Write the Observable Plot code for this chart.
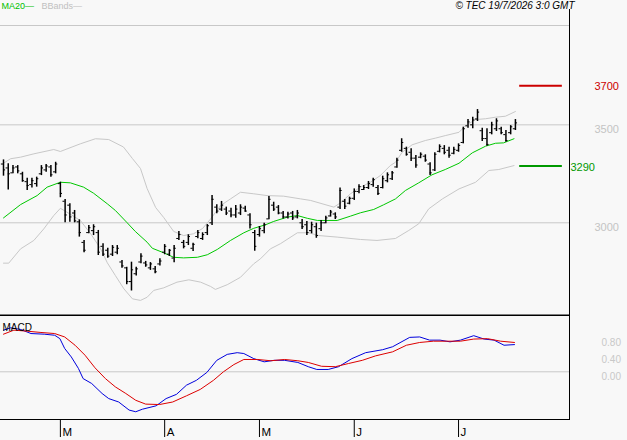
<!DOCTYPE html>
<html><head><meta charset="utf-8">
<script src="https://cdn.jsdelivr.net/npm/d3@7"></script>
<script src="https://cdn.jsdelivr.net/npm/@observablehq/plot@0.6"></script>
<style>
body{margin:0;background:#f8f8f8;}
#wrap{position:relative;width:627px;height:440px;overflow:hidden;background:#f8f8f8;font-family:"Liberation Sans",Arial,sans-serif;}
#top,#bot{position:absolute;left:0;}
#top{top:0}
#bot{top:316px}
#border{position:absolute;left:0;top:9px;width:570px;height:411px;box-sizing:border-box;border-right:1px solid #000;border-bottom:1px solid #000;pointer-events:none}
</style></head><body>
<div id="wrap"><div id="top"></div><div id="bot"></div><div id="border"></div></div>
<script>
// ---- daily OHLC bars (trading day index 0 = 12 Feb 2026 ... 108 = 17 Jul 2026)
const high = [3321,3301,3292,3292,3258,3228,3228,3233,3292,3297,
  3292,3309,3207,3119,3097,3063,3015,2910,2986,2990,
  2961,2893,2870,2884,2884,2808,2773,2799,2773,2842,
  2803,2797,2777,2816,2889,2864,2884,2956,2910,2939,
  2896,2961,2949,2991,3139,3092,3109,3080,3074,3088,
  3092,3085,3046,2961,2981,2998,3134,3105,3088,3058,
  3054,3058,3063,3017,3007,3003,2998,3012,3034,3063,
  3051,3177,3119,3131,3173,3194,3190,3211,3228,3190,
  3238,3255,3262,3330,3429,3386,3378,3343,3357,3347,
  3306,3357,3398,3394,3386,3386,3403,3488,3527,3539,
  3578,3483,3480,3513,3531,3488,3471,3496,3527];
const low = [3238,3168,3250,3250,3207,3165,3177,3182,3241,3258,
  3233,3250,3128,3000,3003,3000,2927,2847,2944,2935,
  2833,2828,2819,2828,2837,2768,2684,2652,2728,2791,
  2773,2757,2740,2779,2837,2828,2796,2910,2867,2884,
  2854,2918,2910,2935,2986,3046,3058,3037,3026,3023,
  3037,3054,2969,2855,2927,2944,3015,3058,3041,3020,
  3020,3012,3020,2966,2935,2944,2921,2956,2995,3029,
  3017,3068,3068,3092,3114,3148,3165,3170,3182,3139,
  3173,3204,3216,3279,3360,3340,3313,3279,3327,3309,
  3241,3262,3357,3347,3330,3347,3360,3403,3483,3480,
  3517,3415,3391,3449,3466,3449,3411,3449,3471];
const open = [3300,3280,3255,3285,3250,3210,3195,3200,3250,3270,
  3285,3260,3200,3110,3090,3050,3005,2900,2950,2960,
  2950,2880,2860,2840,2850,2800,2770,2700,2740,2800,
  2795,2770,2765,2790,2850,2840,2820,2920,2900,2900,
  2870,2930,2920,2950,3000,3080,3070,3070,3060,3040,
  3050,3075,3040,2950,2940,2960,3020,3090,3080,3050,
  3030,3050,3030,3000,2990,2960,2980,2970,3000,3035,
  3045,3080,3110,3100,3125,3160,3170,3180,3195,3180,
  3180,3215,3225,3285,3370,3380,3360,3330,3335,3340,
  3300,3270,3365,3380,3370,3355,3370,3410,3495,3500,
  3530,3470,3430,3460,3480,3480,3450,3460,3480];
const close = [3270,3250,3280,3265,3215,3190,3215,3225,3280,3290,
  3245,3300,3150,3040,3030,3010,2950,2860,2975,2980,
  2850,2840,2830,2875,2870,2780,2700,2760,2765,2830,
  2785,2790,2750,2805,2880,2860,2870,2940,2880,2930,
  2890,2950,2940,2985,3120,3060,3090,3050,3040,3070,
  3080,3060,2990,2880,2970,2990,3120,3070,3050,3030,
  3045,3025,3050,2980,2950,2990,2935,3000,3025,3055,
  3030,3165,3085,3125,3160,3185,3180,3200,3220,3150,
  3225,3245,3255,3320,3410,3350,3330,3295,3350,3320,
  3255,3350,3390,3360,3345,3375,3395,3480,3515,3525,
  3565,3430,3400,3500,3520,3460,3420,3490,3510];

// ---- MA20 and Bollinger bands (x = trading day index)
const maIdx = [0,3.6,7.1,9.2,12.0,14.1,16.9,19.0,21.9,23.6,26.1,27.8,30.3,31.4,33.8,35.9,38.0,40.9,43.0,45.1,47.9,50.7,52.8,55.3,57.0,59.9,62.0,64.1,66.2,70.4,73.2,75.3,78.1,80.2,82.7,84.8,87.6,90.4,93.2,96.1,98.9,101.7,103.8,105.5,107.7];
const maVal = [3025,3093,3139,3182,3207,3204,3182,3151,3097,3063,3000,2956,2901,2870,2847,2824,2821,2824,2837,2864,2910,2949,2972,2990,3007,3029,3037,3023,3012,3012,3034,3051,3068,3092,3122,3165,3204,3245,3272,3304,3357,3391,3406,3408,3429];
const bbUpIdx = [0,1.5,3.6,6.4,10.6,12.0,16.2,19.4,22.2,25.3,27.2,28.9,30.3,32.1,33.8,35.9,38.0,40.1,42.0,43.7,45.8,47.9,50.0,52.8,55.6,59.1,62.7,64.8,69.7,71.1,73.2,75.3,77.4,79.5,81.6,82.7,84.1,86.2,89.0,91.1,93.2,96.1,97.5,99.6,101.7,103.8,105.9,108.0];
const bbUpVal = [3304,3327,3335,3352,3374,3364,3403,3429,3425,3387,3328,3277,3175,3078,3027,2956,2935,2944,2971,3020,3088,3122,3156,3148,3139,3136,3122,3114,3080,3102,3148,3182,3207,3241,3292,3309,3360,3398,3420,3432,3445,3462,3496,3527,3531,3539,3544,3568];
const bbLoIdx = [0,1.1,3.6,6.4,8.5,10.6,12.0,13.4,16.2,18.4,20.5,21.9,23.6,25.4,27.2,28.9,30.3,31.7,33.8,36.6,39.1,41.6,43.7,44.7,47.2,50.0,52.8,54.2,56.3,58.4,62.0,64.4,66.5,70.4,75.3,78.8,82.7,85.5,87.6,89.7,92.6,96.1,99.6,102.4,104.5,107.7];
const bbLoVal = [2794,2794,2867,2910,2969,3037,3074,3054,3012,2944,2867,2796,2731,2663,2612,2604,2620,2655,2668,2697,2709,2697,2675,2660,2684,2722,2791,2816,2867,2893,2949,2949,2935,2927,2915,2910,2920,2961,2995,3071,3122,3173,3207,3267,3272,3292];

// ---- MACD and signal
const macdIdx = [0,1.5,3.65,5.8,8.6,10.8,11.9,12.9,14.3,15.8,16.8,18.6,20.8,22.2,24.3,26.5,27.9,29.3,32.2,34.3,36.5,38.6,40.7,42.9,45.0,47.2,49.3,50.7,52.8,55.0,57.1,59.3,62.1,64.3,66.1,68.5,70.7,73.5,76.4,80.0,82.1,85.7,87.8,89.9,92.1,94.2,96.4,99.2,101.4,103.5,105.6,107.8];
const macdVal = [0.98,1.035,0.995,0.90,0.885,0.86,0.78,0.55,0.35,0.08,-0.16,-0.275,-0.51,-0.63,-0.71,-0.90,-0.94,-0.88,-0.80,-0.63,-0.53,-0.315,-0.20,-0.015,0.27,0.41,0.45,0.43,0.31,0.235,0.27,0.27,0.22,0.12,0.055,0.055,0.12,0.31,0.45,0.52,0.59,0.81,0.82,0.745,0.745,0.705,0.745,0.85,0.77,0.745,0.625,0.64];
const sigIdx = [0,2.2,5.1,7.9,10.8,12.9,15.1,17.2,19.3,21.5,23.6,25.8,27.9,30.0,32.9,35.7,38.6,41.5,44.3,46.4,48.6,50.7,53.6,56.4,59.3,62.1,64.3,67.1,70.0,72.8,75.7,78.5,82.1,85.0,87.8,90.7,93.5,96.4,99.2,102.1,104.9,107.8];
const sigVal = [0.885,0.98,0.955,0.925,0.90,0.82,0.625,0.39,0.095,-0.16,-0.355,-0.51,-0.67,-0.76,-0.77,-0.71,-0.565,-0.415,-0.20,0.00,0.17,0.29,0.29,0.26,0.29,0.26,0.22,0.13,0.12,0.195,0.27,0.375,0.47,0.625,0.69,0.72,0.72,0.72,0.77,0.78,0.72,0.69];

// ---- axes / levels / texts
const monthIdx = [12,34,54,74,96];
const monthLabels = ["M","A","M","J","J"];
const priceTicks = [3000,3500];
const resistance = 3700;
const support = 3290;
const macdTicks = [0,0.4,0.8];
const legendMA = "MA20—";
const legendBB = "BBands—";
const copyright = "© TEC 19/7/2026 3:0 GMT";
const macdTitle = "MACD";

const FONT = "Liberation Sans, Arial, sans-serif";
const bars = high.map((h,i)=>({i, h, l: low[i], o: open[i], c: close[i]}));
const zip = (a,b)=>a.map((x,k)=>({x, y:b[k]}));
const lastIdx = high.length - 1;
const xDomain = [-0.633, 119.41];
const yDomain = [2532, 4007];

const topChart = Plot.plot({
  width: 627, height: 316, marginTop: 25, marginBottom: 2, marginLeft: 0, marginRight: 58,
  style: {background: "transparent", fontFamily: FONT, fontSize: "10px", color: "#000"},
  x: {domain: xDomain, axis: null},
  y: {domain: yDomain, axis: null},
  marks: [
    Plot.frame({anchor: "top", stroke: "#c8c8c8"}),
    Plot.ruleY(priceTicks, {stroke: "#c8c8c8"}),
    Plot.line(zip(bbUpIdx, bbUpVal), {x: "x", y: "y", stroke: "#c8c8c8", strokeWidth: 1}),
    Plot.line(zip(bbLoIdx, bbLoVal), {x: "x", y: "y", stroke: "#c8c8c8", strokeWidth: 1}),
    Plot.line(zip(maIdx, maVal), {x: "x", y: "y", stroke: "#00c800", strokeWidth: 1}),
    Plot.ruleX(bars, {x: "i", y1: "l", y2: "h", stroke: "#000", strokeWidth: 1.5}),
    Plot.ruleY(bars, {y: "o", x1: d => d.i - 0.45, x2: "i", stroke: "#000", strokeWidth: 1}),
    Plot.ruleY(bars, {y: "c", x1: "i", x2: d => d.i + 0.45, stroke: "#000", strokeWidth: 1}),
    Plot.ruleY([resistance], {x1: lastIdx + 0.9, x2: lastIdx + 9.9, stroke: "#cc0000", strokeWidth: 2}),
    Plot.ruleY([support], {x1: lastIdx + 0.9, x2: lastIdx + 9.9, stroke: "#009900", strokeWidth: 2}),
    Plot.axisY(priceTicks, {anchor: "right", label: null, tickSize: 0, tickPadding: 25, textAnchor: "start", fill: "#c4c4c4", dy: 5, fontSize: 11, tickFormat: d => String(d)}),
    Plot.axisY([resistance], {anchor: "right", label: null, tickSize: 0, tickPadding: 25, textAnchor: "start", fill: "#cc0000", dy: 1, fontSize: 11, tickFormat: d => String(d)}),
    Plot.axisY([support], {anchor: "right", label: null, tickSize: 0, tickPadding: 1, textAnchor: "start", fill: "#009900", dy: 1, fontSize: 11, tickFormat: d => String(d)}),
    Plot.ruleY([yDomain[0]], {stroke: "#000", strokeWidth: 2, dy: 1}),
    Plot.text([legendMA], {frameAnchor: "top-left", textAnchor: "start", lineAnchor: "middle", dx: 1, dy: -19.5, fill: "#00c000", fontSize: 9}),
    Plot.text([legendBB], {frameAnchor: "top-left", textAnchor: "start", lineAnchor: "middle", dx: 41, dy: -19.5, fill: "#c0c0c0", fontSize: 9}),
    Plot.text([copyright], {frameAnchor: "top-right", textAnchor: "end", lineAnchor: "middle", dx: 5, dy: -19.5, fill: "#000", fontSize: 10, fontStyle: "italic"})
  ]
});
document.getElementById("top").appendChild(topChart);

const botChart = Plot.plot({
  width: 627, height: 124, marginTop: 0, marginBottom: 21, marginLeft: 0, marginRight: 58,
  style: {background: "transparent", fontFamily: FONT, fontSize: "10px", color: "#000"},
  x: {domain: xDomain, axis: null},
  y: {domain: [-1.122, 1.301], axis: null},
  marks: [
    Plot.ruleY([0], {stroke: "#c8c8c8"}),
    Plot.line(zip(macdIdx, macdVal), {x: "x", y: "y", stroke: "#0000dd", strokeWidth: 1}),
    Plot.line(zip(sigIdx, sigVal), {x: "x", y: "y", stroke: "#dd0000", strokeWidth: 1}),
    Plot.text([macdTitle], {frameAnchor: "top-left", textAnchor: "start", lineAnchor: "middle", dx: 2, dy: 11, fill: "#000", fontSize: 10}),
    Plot.axisY(macdTicks, {anchor: "right", label: null, tickSize: 0, tickPadding: 32, textAnchor: "start", fill: "#c8c8c8", dy: 5, fontSize: 10, tickFormat: d => d.toFixed(2)}),
    Plot.axisX(monthIdx, {anchor: "bottom", label: null, tickSize: 18, fill: "none", stroke: "#000"}),
    Plot.axisX(monthIdx, {anchor: "bottom", label: null, tickSize: 0, tickPadding: 8.5, textAnchor: "start", dx: 2, fill: "#000", fontSize: 11.5, tickFormat: d => monthLabels[monthIdx.indexOf(d)]})
  ]
});
document.getElementById("bot").appendChild(botChart);
</script>
</body></html>
